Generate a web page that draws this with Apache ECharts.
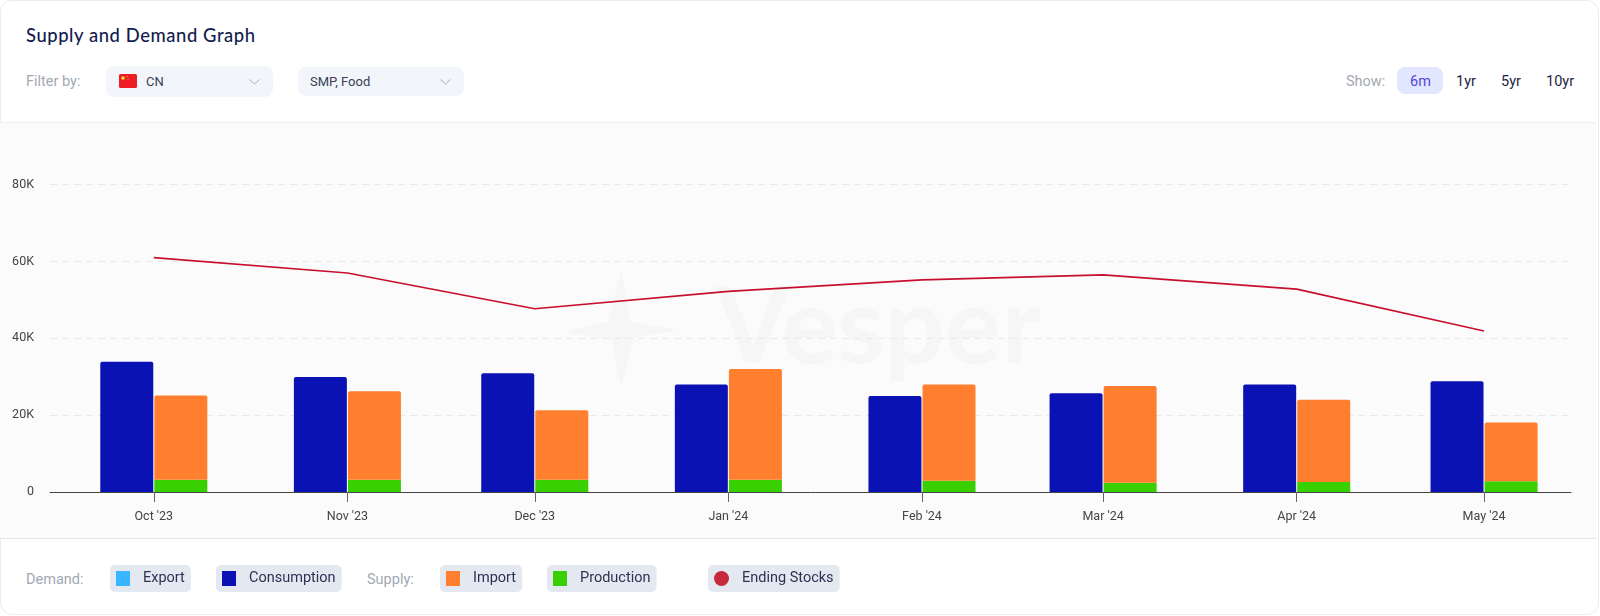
<!DOCTYPE html>
<html><head><meta charset="utf-8">
<script src="https://cdn.jsdelivr.net/npm/echarts@6/dist/echarts.min.js"></script>
<style>
html,body{margin:0;padding:0;background:#fff;width:1600px;height:616px;overflow:hidden;font-family:Roboto,sans-serif}
.card{position:absolute;left:0;top:0;width:1597px;height:613px;border:1px solid #ececee;border-radius:12px;overflow:hidden;box-sizing:content-box}
.band{position:absolute;left:0;top:122px;width:1597px;height:417px;background:#fbfbfb;border-top:1px solid #f0f0f0;border-bottom:1px solid #e6e6e8;box-sizing:border-box}
.t{position:absolute;white-space:nowrap;line-height:1}
.chip{position:absolute;background:#f2f5fa;border-radius:8px}
#wm{position:absolute;left:0;top:0}
#chart{position:absolute;left:0;top:0;width:1600px;height:616px}
</style></head><body>
<div class="card"></div>
<div class="band"></div>
<svg id="wm" width="1600" height="616">
<polygon points="621,270 630,322 678,330 634,338 621,387 612,340 564,332 608,322" fill="#f6f6f6"/>
<text x="716" y="363" font-family="Lato,sans-serif" font-weight="700" font-size="106" fill="#f6f6f6">Vesper</text>
</svg>
<div class="t" style="left:26px;top:25px;font:500 18.4px Lato,sans-serif;letter-spacing:.58px;color:#141c4e;line-height:20px">Supply and Demand Graph</div>
<div class="t" style="left:26px;top:75px;font-size:14.5px;color:#a3a8b3">Filter by:</div>
<div class="chip" style="left:106px;top:66px;width:167px;height:31px"></div>
<svg style="position:absolute;left:119px;top:74px" width="18" height="14"><rect width="18" height="14" rx="1.5" fill="#ee1c25"/><circle cx="4" cy="4" r="1.8" fill="#ffdc3c"/><circle cx="8" cy="2.5" r=".6" fill="#ffdc3c"/><circle cx="9" cy="5" r=".6" fill="#ffdc3c"/></svg>
<div class="t" style="left:146px;top:75px;font-size:13px;color:#3a4058">CN</div>
<svg style="position:absolute;left:248px;top:78px" width="13" height="8"><path d="M1.5 1.5 L6.5 6 L11.5 1.5" fill="none" stroke="#aab0ba" stroke-width="1"/></svg>
<div class="chip" style="left:298px;top:67px;width:166px;height:29px"></div>
<div class="t" style="left:310px;top:75px;font-size:13px;color:#3a4058">SMP, Food</div>
<svg style="position:absolute;left:439px;top:78px" width="13" height="8"><path d="M1.5 1.5 L6.5 6 L11.5 1.5" fill="none" stroke="#aab0ba" stroke-width="1"/></svg>
<div class="t" style="left:1346px;top:75px;font-size:14.5px;color:#a3a8b3">Show:</div>
<div class="chip" style="left:1397px;top:67px;width:46px;height:27px;background:#e2e6ff"></div>
<div class="t" style="left:1410px;top:75px;font-size:14.5px;color:#5048d8">6m</div>
<div class="t" style="left:1456px;top:75px;font-size:14.5px;color:#23263f">1yr</div>
<div class="t" style="left:1501px;top:75px;font-size:14.5px;color:#23263f">5yr</div>
<div class="t" style="left:1546px;top:75px;font-size:14.5px;color:#23263f">10yr</div>
<div class="t" style="left:26px;top:573px;font-size:14.5px;color:#a3a8b3">Demand:</div>
<div class="t" style="left:367px;top:573px;font-size:14.5px;color:#a3a8b3">Supply:</div>
<div id="chart"></div>
<script>
const dates = ['2023-10-01','2023-11-01','2023-12-01','2024-01-01','2024-02-01','2024-03-01','2024-04-01','2024-05-01'];
const tickLabels = ["Oct '23","Nov '23","Dec '23","Jan '24","Feb '24","Mar '24","Apr '24","May '24"];
const consumption = [33900,29900,30900,28000,25000,25700,28000,28800];
const importVals = [21900,23000,18100,28800,25100,25200,21400,15300];
const production = [3200,3200,3200,3200,2900,2400,2600,2800];
const endingStocks = [61000,57000,47700,52200,55200,56500,52800,41900];
const yTicks = [0,20000,40000,60000,80000];

const ts = dates.map(d => { const p = d.split('-').map(Number); return new Date(p[0], p[1]-1, p[2]).getTime(); });
const pair = arr => arr.map((v,i) => [ts[i], v]);
const DAY = 86400000;
const chart = echarts.init(document.getElementById('chart'), null, {renderer:'canvas'});
const chip = (name, left, icon, color) => ({
  show:true, selectedMode:false, left, top:565, orient:'horizontal', icon,
  padding:[6,6,6,6], backgroundColor:'#e3e8f1', borderRadius:5,
  itemWidth:icon==='circle'?15:14, itemHeight:15,
  data:[{name, itemStyle:{color}}],
  textStyle:{fontFamily:'Roboto',fontSize:14.5,color:'#2c3352',padding:[6,2,0,8]}
});
chart.setOption({
  animation:false,
  backgroundColor:'transparent',
  grid:{left:50,right:29,top:184.6,height:307.4,containLabel:false},
  legend:[
    chip('Export',110,'rect','#38b6ff'),
    chip('Consumption',216,'rect','#0a12b4'),
    chip('Import',440,'rect','#ff7f2e'),
    chip('Production',547,'rect','#38d000'),
    chip('Ending Stocks',708,'circle','#c8283c')
  ],
  xAxis:{
    type:'time',
    min:ts[0]-8.05*DAY,
    max:ts[7]+5.35*DAY,
    minInterval:28*DAY,
    maxInterval:31*DAY,
    splitLine:{show:false},
    axisLine:{show:true,lineStyle:{color:'#444',width:1}},
    axisTick:{show:true,length:10,lineStyle:{color:'#666'}},
    axisLabel:{
      formatter:v=>tickLabels[ts.indexOf(v)] ?? '',
      color:'#444',fontFamily:'Roboto',fontSize:12.5,margin:18,hideOverlap:false
    }
  },
  yAxis:{
    type:'value',min:yTicks[0],max:yTicks[4],interval:20000,
    axisLine:{show:false},axisTick:{show:false},
    axisLabel:{formatter:v=>v===0?'0':(v/1000)+'K',color:'#444',fontFamily:'Roboto',fontSize:12.5,margin:16,padding:[5,0,0,0]},
    splitLine:{show:true,lineStyle:{color:'#e9e9e9',type:[7,5],width:1}}
  },
  series:[
    {name:'Export',type:'bar',stack:'demand',barWidth:53,barGap:'2%',data:[],itemStyle:{color:'#38b6ff'}},
    {name:'Consumption',type:'bar',stack:'demand',barWidth:53,barGap:'2%',data:pair(consumption),itemStyle:{color:'#0a12b4',borderRadius:[2,2,0,0]}},
    {name:'Production',type:'bar',stack:'supply',barWidth:53,barGap:'2%',data:pair(production),itemStyle:{color:'#38d000'}},
    {name:'Import',type:'bar',stack:'supply',barWidth:53,barGap:'2%',data:pair(importVals),itemStyle:{color:'#ff7f2e',borderRadius:[2,2,0,0]}},
    {name:'Ending Stocks',type:'line',data:pair(endingStocks),showSymbol:false,symbol:'none',lineStyle:{color:'#c8102e',width:1.6},itemStyle:{color:'#c8283c'},z:5}
  ]
});
</script>
</body></html>
